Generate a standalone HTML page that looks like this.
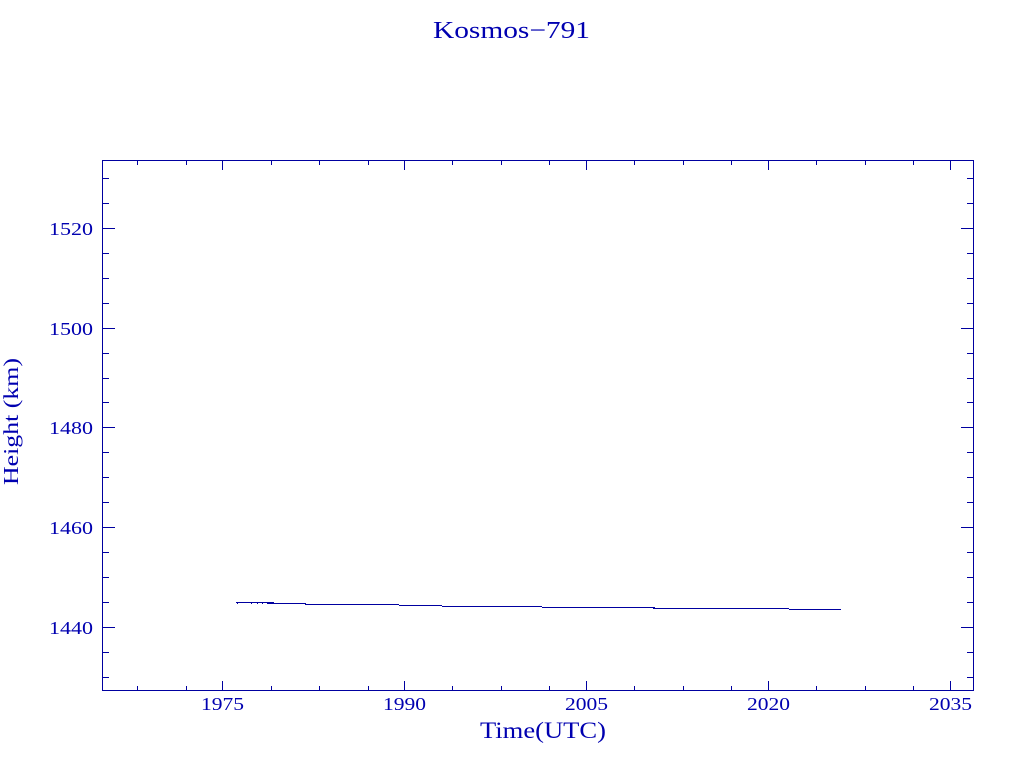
<!DOCTYPE html>
<html><head><meta charset="utf-8"><style>
html,body{margin:0;padding:0;background:#fff;}
svg{display:block;}
text{font-family:"Liberation Serif",serif;fill:#0000b0;}
</style></head><body>
<svg width="1024" height="768" viewBox="0 0 1024 768" xmlns="http://www.w3.org/2000/svg">
<rect width="1024" height="768" fill="#fff"/>
<g fill="#0000a0" shape-rendering="crispEdges">
<!-- frame -->
<rect x="102" y="160" width="872" height="1"/>
<rect x="102" y="690" width="872" height="1"/>
<rect x="102" y="160" width="1" height="531"/>
<rect x="973" y="160" width="1" height="531"/>
<!-- x major ticks bottom/top -->
<rect x="222" y="681" width="1" height="9"/><rect x="222" y="161" width="1" height="9"/>
<rect x="404" y="681" width="1" height="9"/><rect x="404" y="161" width="1" height="9"/>
<rect x="586" y="681" width="1" height="9"/><rect x="586" y="161" width="1" height="9"/>
<rect x="768" y="681" width="1" height="9"/><rect x="768" y="161" width="1" height="9"/>
<rect x="950" y="681" width="1" height="9"/><rect x="950" y="161" width="1" height="9"/>
<!-- x minor ticks -->
<rect x="137" y="686" width="1" height="4"/><rect x="137" y="161" width="1" height="4"/>
<rect x="186" y="686" width="1" height="4"/><rect x="186" y="161" width="1" height="4"/>
<rect x="271" y="686" width="1" height="4"/><rect x="271" y="161" width="1" height="4"/>
<rect x="319" y="686" width="1" height="4"/><rect x="319" y="161" width="1" height="4"/>
<rect x="368" y="686" width="1" height="4"/><rect x="368" y="161" width="1" height="4"/>
<rect x="452" y="686" width="1" height="4"/><rect x="452" y="161" width="1" height="4"/>
<rect x="501" y="686" width="1" height="4"/><rect x="501" y="161" width="1" height="4"/>
<rect x="549" y="686" width="1" height="4"/><rect x="549" y="161" width="1" height="4"/>
<rect x="634" y="686" width="1" height="4"/><rect x="634" y="161" width="1" height="4"/>
<rect x="683" y="686" width="1" height="4"/><rect x="683" y="161" width="1" height="4"/>
<rect x="731" y="686" width="1" height="4"/><rect x="731" y="161" width="1" height="4"/>
<rect x="816" y="686" width="1" height="4"/><rect x="816" y="161" width="1" height="4"/>
<rect x="865" y="686" width="1" height="4"/><rect x="865" y="161" width="1" height="4"/>
<rect x="913" y="686" width="1" height="4"/><rect x="913" y="161" width="1" height="4"/>
<!-- y major ticks -->
<rect x="103" y="627" width="12" height="1"/><rect x="961" y="627" width="12" height="1"/>
<rect x="103" y="527" width="12" height="1"/><rect x="961" y="527" width="12" height="1"/>
<rect x="103" y="427" width="12" height="1"/><rect x="961" y="427" width="12" height="1"/>
<rect x="103" y="328" width="12" height="1"/><rect x="961" y="328" width="12" height="1"/>
<rect x="103" y="228" width="12" height="1"/><rect x="961" y="228" width="12" height="1"/>
<!-- y minor ticks -->
<rect x="103" y="677" width="6" height="1"/><rect x="967" y="677" width="6" height="1"/>
<rect x="103" y="652" width="6" height="1"/><rect x="967" y="652" width="6" height="1"/>
<rect x="103" y="602" width="6" height="1"/><rect x="967" y="602" width="6" height="1"/>
<rect x="103" y="577" width="6" height="1"/><rect x="967" y="577" width="6" height="1"/>
<rect x="103" y="552" width="6" height="1"/><rect x="967" y="552" width="6" height="1"/>
<rect x="103" y="502" width="6" height="1"/><rect x="967" y="502" width="6" height="1"/>
<rect x="103" y="477" width="6" height="1"/><rect x="967" y="477" width="6" height="1"/>
<rect x="103" y="452" width="6" height="1"/><rect x="967" y="452" width="6" height="1"/>
<rect x="103" y="402" width="6" height="1"/><rect x="967" y="402" width="6" height="1"/>
<rect x="103" y="378" width="6" height="1"/><rect x="967" y="378" width="6" height="1"/>
<rect x="103" y="353" width="6" height="1"/><rect x="967" y="353" width="6" height="1"/>
<rect x="103" y="303" width="6" height="1"/><rect x="967" y="303" width="6" height="1"/>
<rect x="103" y="278" width="6" height="1"/><rect x="967" y="278" width="6" height="1"/>
<rect x="103" y="253" width="6" height="1"/><rect x="967" y="253" width="6" height="1"/>
<rect x="103" y="203" width="6" height="1"/><rect x="967" y="203" width="6" height="1"/>
<rect x="103" y="178" width="6" height="1"/><rect x="967" y="178" width="6" height="1"/>
<!-- data -->
<rect x="236" y="602" width="37" height="1"/>
<rect x="237" y="603" width="1" height="1"/>
<rect x="251" y="603" width="1" height="1"/>
<rect x="257" y="603" width="1" height="1"/>
<rect x="262" y="603" width="1" height="1"/>
<rect x="267" y="602" width="7" height="2"/>
<rect x="273" y="603" width="33" height="1"/>
<rect x="305" y="604" width="94" height="1"/>
<rect x="399" y="605" width="43" height="1"/>
<rect x="442" y="606" width="100" height="1"/>
<rect x="542" y="607" width="113" height="1"/>
<rect x="653" y="608" width="136" height="1"/>
<rect x="789" y="609" width="52" height="1"/>
</g>
<!-- title -->
<text x="433" y="38" font-size="24" textLength="157" lengthAdjust="spacingAndGlyphs">Kosmos−791</text>
<!-- y tick labels -->
<g font-size="18" text-anchor="end">
<text x="93" y="634" textLength="44" lengthAdjust="spacingAndGlyphs">1440</text>
<text x="93" y="534" textLength="44" lengthAdjust="spacingAndGlyphs">1460</text>
<text x="93" y="434" textLength="44" lengthAdjust="spacingAndGlyphs">1480</text>
<text x="93" y="335" textLength="44" lengthAdjust="spacingAndGlyphs">1500</text>
<text x="93" y="235" textLength="44" lengthAdjust="spacingAndGlyphs">1520</text>
</g>
<!-- x tick labels -->
<g font-size="18">
<text x="201" y="710" textLength="43" lengthAdjust="spacingAndGlyphs">1975</text>
<text x="383" y="710" textLength="43" lengthAdjust="spacingAndGlyphs">1990</text>
<text x="565" y="710" textLength="43" lengthAdjust="spacingAndGlyphs">2005</text>
<text x="747" y="710" textLength="43" lengthAdjust="spacingAndGlyphs">2020</text>
<text x="929" y="710" textLength="43" lengthAdjust="spacingAndGlyphs">2035</text>
</g>
<!-- axis labels -->
<text x="480" y="738" font-size="23" textLength="126" lengthAdjust="spacingAndGlyphs">Time(UTC)</text>
<text transform="rotate(-90)" x="-485" y="18" font-size="21" textLength="127" lengthAdjust="spacingAndGlyphs">Height (km)</text>
</svg>
</body></html>
